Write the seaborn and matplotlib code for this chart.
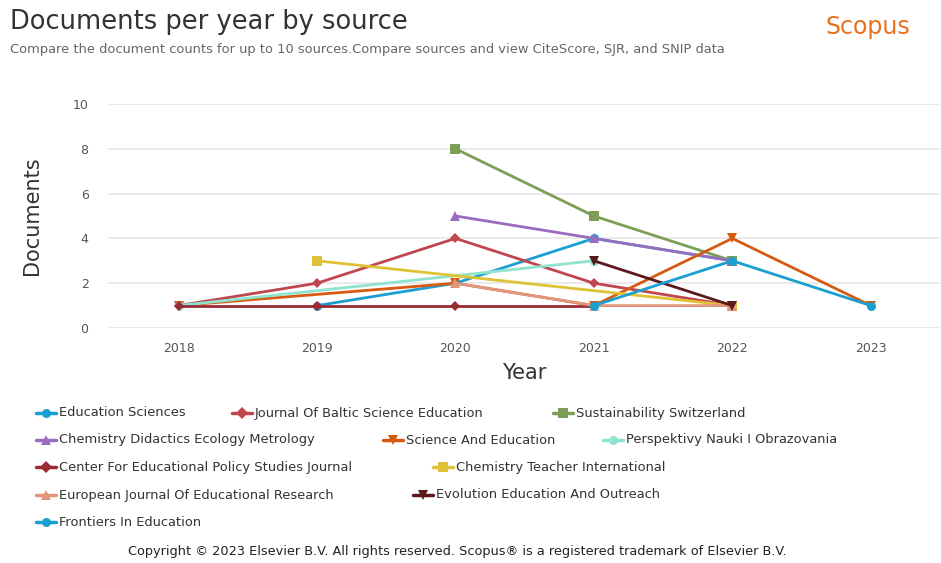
import matplotlib
matplotlib.use("Agg")
import matplotlib.pyplot as plt
from matplotlib.lines import Line2D
import seaborn as sns
import pandas as pd

# ---- data ----
sources = [
    "Education Sciences",
    "Journal Of Baltic Science Education",
    "Sustainability Switzerland",
    "Chemistry Didactics Ecology Metrology",
    "Science And Education",
    "Perspektivy Nauki I Obrazovania",
    "Center For Educational Policy Studies Journal",
    "Chemistry Teacher International",
    "European Journal Of Educational Research",
    "Evolution Education And Outreach",
    "Frontiers In Education",
]
years_education_sciences = [2019, 2020, 2021, 2022]
docs_education_sciences = [1, 2, 4, 3]
years_baltic = [2018, 2019, 2020, 2021, 2022]
docs_baltic = [1, 2, 4, 2, 1]
years_sustainability = [2020, 2021, 2022]
docs_sustainability = [8, 5, 3]
years_chem_didactics = [2020, 2021, 2022]
docs_chem_didactics = [5, 4, 3]
years_science_education = [2018, 2020, 2021, 2022, 2023]
docs_science_education = [1, 2, 1, 4, 1]
years_perspektivy = [2018, 2021]
docs_perspektivy = [1, 3]
years_center_policy = [2018, 2019, 2020, 2021]
docs_center_policy = [1, 1, 1, 1]
years_chem_teacher = [2019, 2022]
docs_chem_teacher = [3, 1]
years_european = [2020, 2021, 2022]
docs_european = [2, 1, 1]
years_evolution = [2021, 2022]
docs_evolution = [3, 1]
years_frontiers = [2021, 2022, 2023]
docs_frontiers = [1, 3, 1]

series_years = [years_education_sciences, years_baltic, years_sustainability,
                years_chem_didactics, years_science_education, years_perspektivy,
                years_center_policy, years_chem_teacher, years_european,
                years_evolution, years_frontiers]
series_docs = [docs_education_sciences, docs_baltic, docs_sustainability,
               docs_chem_didactics, docs_science_education, docs_perspektivy,
               docs_center_policy, docs_chem_teacher, docs_european,
               docs_evolution, docs_frontiers]
year_ticks = [2018, 2019, 2020, 2021, 2022, 2023]
doc_ticks = [0, 2, 4, 6, 8, 10]

# ---- styles ----
colors = ["#1b9fd2", "#c1454d", "#7c9f55", "#9a6cc0", "#d65a12", "#8fe3cf",
          "#9a2a33", "#dfc236", "#e2967b", "#5c1a1f", "#1a9fd0"]
markers = ["o", "D", "s", "^", "v", "o", "D", "s", "^", "v", "o"]
msizes = [6.5, 5, 6.5, 7, 7, 6.5, 5, 6.5, 7, 7, 6.5]

sns.set_theme(style="white")
plt.rcParams["font.family"] = ["DejaVu Sans"]

fig = plt.figure(figsize=(9.41, 5.63), dpi=100)
ax = fig.add_axes([108 / 941, 1 - 328 / 563, (940 - 108) / 941, (328 - 104) / 563])

for name, ys, ds, c, m, ms in zip(sources, series_years, series_docs, colors,
                                  markers, msizes):
    d = pd.DataFrame({"Year": ys, "Documents": ds})
    sns.lineplot(data=d, x="Year", y="Documents", color=c, marker=m,
                 linewidth=2.0, markersize=ms, markeredgewidth=0,
                 ax=ax, estimator=None, clip_on=False)

ax.set_xlim(2017.49, 2023.5)
ax.set_ylim(0, 10)
ax.set_xticks(year_ticks)
ax.set_xticklabels([str(y) for y in year_ticks])
ax.set_yticks(doc_ticks)
ax.grid(axis="y", color="#e6e6e6", linewidth=1.2)
ax.grid(axis="x", visible=False)
for s in ax.spines.values():
    s.set_visible(False)
ax.tick_params(axis="both", length=0, labelsize=9, colors="#555555")
ax.tick_params(axis="x", pad=10)
ax.tick_params(axis="y", pad=14)
ax.set_xlabel("Year", fontsize=15, color="#333333", labelpad=6)
ax.set_ylabel("Documents", fontsize=15, color="#333333", labelpad=22)

# titles
fig.text(10 / 941, 1 - 22 / 563, "Documents per year by source", fontsize=18.5,
         color="#333333", va="center", ha="left")
fig.text(10 / 941, 1 - 50 / 563,
         "Compare the document counts for up to 10 sources.Compare sources and view CiteScore, SJR, and SNIP data",
         fontsize=9.35, color="#666666", va="center", ha="left")
fig.text(910 / 941, 1 - 27 / 563, "Scopus", fontsize=17, color="#e9711c",
         va="center", ha="right")

# legend (flow layout)
legend_pos = [(36, 413), (232, 413), (553, 413),
              (36, 440), (383, 440), (603, 440),
              (36, 467), (433, 467),
              (36, 495), (413, 495),
              (36, 522)]
for name, c, m, (px, py) in zip(sources, colors, markers, legend_pos):
    yy = 1 - py / 563
    fig.add_artist(Line2D([px / 941, (px + 20) / 941], [yy, yy],
                          transform=fig.transFigure, color=c, linewidth=2.5))
    fig.add_artist(Line2D([(px + 10) / 941], [yy], transform=fig.transFigure,
                          color=c, marker=m, markersize=6.5, markeredgewidth=0,
                          linestyle="none"))
    fig.text((px + 23) / 941, yy, name, fontsize=9.35, color="#333333",
             va="center", ha="left")

fig.text(457 / 941, 1 - 552 / 563,
         "Copyright \u00a9 2023 Elsevier B.V. All rights reserved. Scopus\u00ae is a registered trademark of Elsevier B.V.",
         fontsize=9.3, color="#222222", va="center", ha="center")

fig.savefig("out.png", dpi=100, facecolor="white")
